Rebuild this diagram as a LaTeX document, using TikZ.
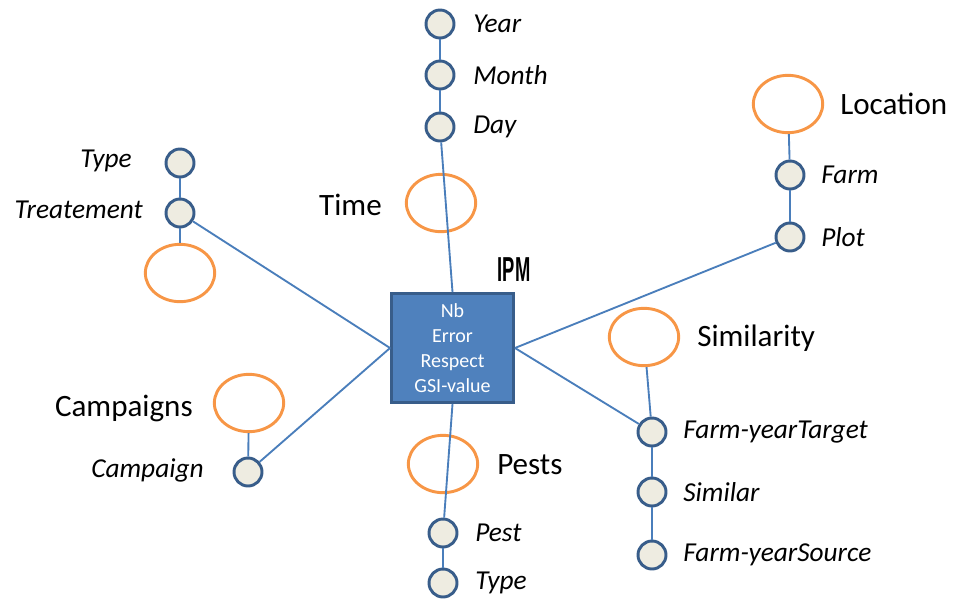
\documentclass[tikz,border=0pt]{standalone}
\usepackage{fontspec}
\usetikzlibrary{shapes.geometric}
\setmainfont{Carlito}
\newfontfamily\ipmfont{Liberation Sans}
\definecolor{lineblue}{HTML}{4A7EBB}
\definecolor{darkblue}{HTML}{385D8A}
\definecolor{boxblue}{HTML}{4F81BD}
\definecolor{circfill}{HTML}{EEECE1}
\definecolor{dimorange}{HTML}{F79646}
\tikzset{
  attr/.style={circle, draw=darkblue, fill=circfill, line width=2.2pt, minimum size=21pt, inner sep=0pt},
  dim/.style={ellipse, draw=dimorange, line width=2.2pt, minimum width=52pt, minimum height=43pt, inner sep=0pt},
  conn/.style={draw=lineblue, line width=1.4pt},
  lab/.style={font=\fontsize{20.5}{23}\selectfont\itshape, inner sep=0pt},
  biglab/.style={font=\fontsize{23.3}{26}\selectfont, inner sep=0pt},
  fact/.style={rectangle, draw=darkblue, fill=boxblue, line width=2.2pt, minimum width=91.5pt, minimum height=81.75pt, inner sep=0pt, text=white, align=center, font=\fontsize{15}{18.75}\selectfont}
}
\begin{document}
\begin{tikzpicture}[x=0.75pt,y=-0.75pt]
\useasboundingbox (0,0) rectangle (955,600);
% fact
\node[fact] (box) at (452.5,348) {Nb\\Error\\Respect\\GSI-value};
\node[inner sep=0pt] (ipm) at (514,270) {\ipmfont\fontsize{26}{28}\selectfont\scalebox{0.53}[1]{\textbf{IPM}}};
% Time
\node[attr] (year) at (440,24) {};
\node[attr] (month) at (440,75) {};
\node[attr] (day) at (440,127) {};
\node[dim] (timeE) at (441,203) {};
\node[lab, anchor=west] (yearL) at (473,24) {Year};
\node[lab, anchor=west] (monthL) at (473,75) {Month};
\node[lab, anchor=west] (dayL) at (473,127) {Day};
\node[biglab, anchor=east] (timeL) at (382,205) {Time};
% Location
\node[dim] (locE) at (788,104) {};
\node[attr] (farm) at (790,175) {};
\node[attr] (plot) at (790,237) {};
\node[biglab, anchor=west] (locL) at (840,104) {Location};
\node[lab, anchor=west] (farmL) at (821,175) {Farm};
\node[lab, anchor=west] (plotL) at (821,237) {Plot};
% Similarity
\node[dim] (simE) at (644,337) {};
\node[attr] (fyt) at (652,432) {};
\node[attr] (sim) at (652,492) {};
\node[attr] (fys) at (652,555) {};
\node[biglab, anchor=west] (simL) at (697,338) {Similarity};
\node[lab, anchor=west] (fytL) at (683,432) {Farm-yearTarget};
\node[lab, anchor=west] (simAL) at (683,492) {Similar};
\node[lab, anchor=west] (fysL) at (683,555) {Farm-yearSource};
% Pests
\node[dim] (pestE) at (443,464) {};
\node[attr] (pest) at (443,533) {};
\node[attr] (ptype) at (443,583) {};
\node[biglab, anchor=west] (pestsL) at (497,465) {Pests};
\node[lab, anchor=west] (pestL) at (475,533) {Pest};
\node[lab, anchor=west] (ptypeL) at (475,583) {Type};
% Treatment
\node[attr] (ttype) at (180,163) {};
\node[attr] (treat) at (180,213) {};
\node[dim] (treatE) at (180,273) {};
\node[lab, anchor=east] (ttypeL) at (132,161) {Type};
\node[lab, anchor=east] (treatL) at (143,210) {Treatement};
% Campaigns
\node[dim] (campE) at (249,403) {};
\node[attr] (camp) at (248,472) {};
\node[biglab, anchor=east] (campsL) at (193,408) {Campaigns};
\node[lab, anchor=east] (campL) at (204,470) {Campaign};
% connectors
\draw[conn] (year) -- (month);
\draw[conn] (month) -- (day);
\draw[conn] (day) -- (box.north);
\draw[conn] (locE) -- (farm);
\draw[conn] (farm) -- (plot);
\draw[conn] (plot) -- (box.east);
\draw[conn] (simE) -- (fyt);
\draw[conn] (fyt) -- (sim);
\draw[conn] (sim) -- (fys);
\draw[conn] (box.east) -- (fyt);
\draw[conn] (box.south) -- (pest);
\draw[conn] (pest) -- (ptype);
\draw[conn] (ttype) -- (treat);
\draw[conn] (treat) -- (treatE);
\draw[conn] (treat) -- (box.west);
\draw[conn] (campE) -- (camp);
\draw[conn] (camp) -- (box.west);
\end{tikzpicture}
\end{document}
